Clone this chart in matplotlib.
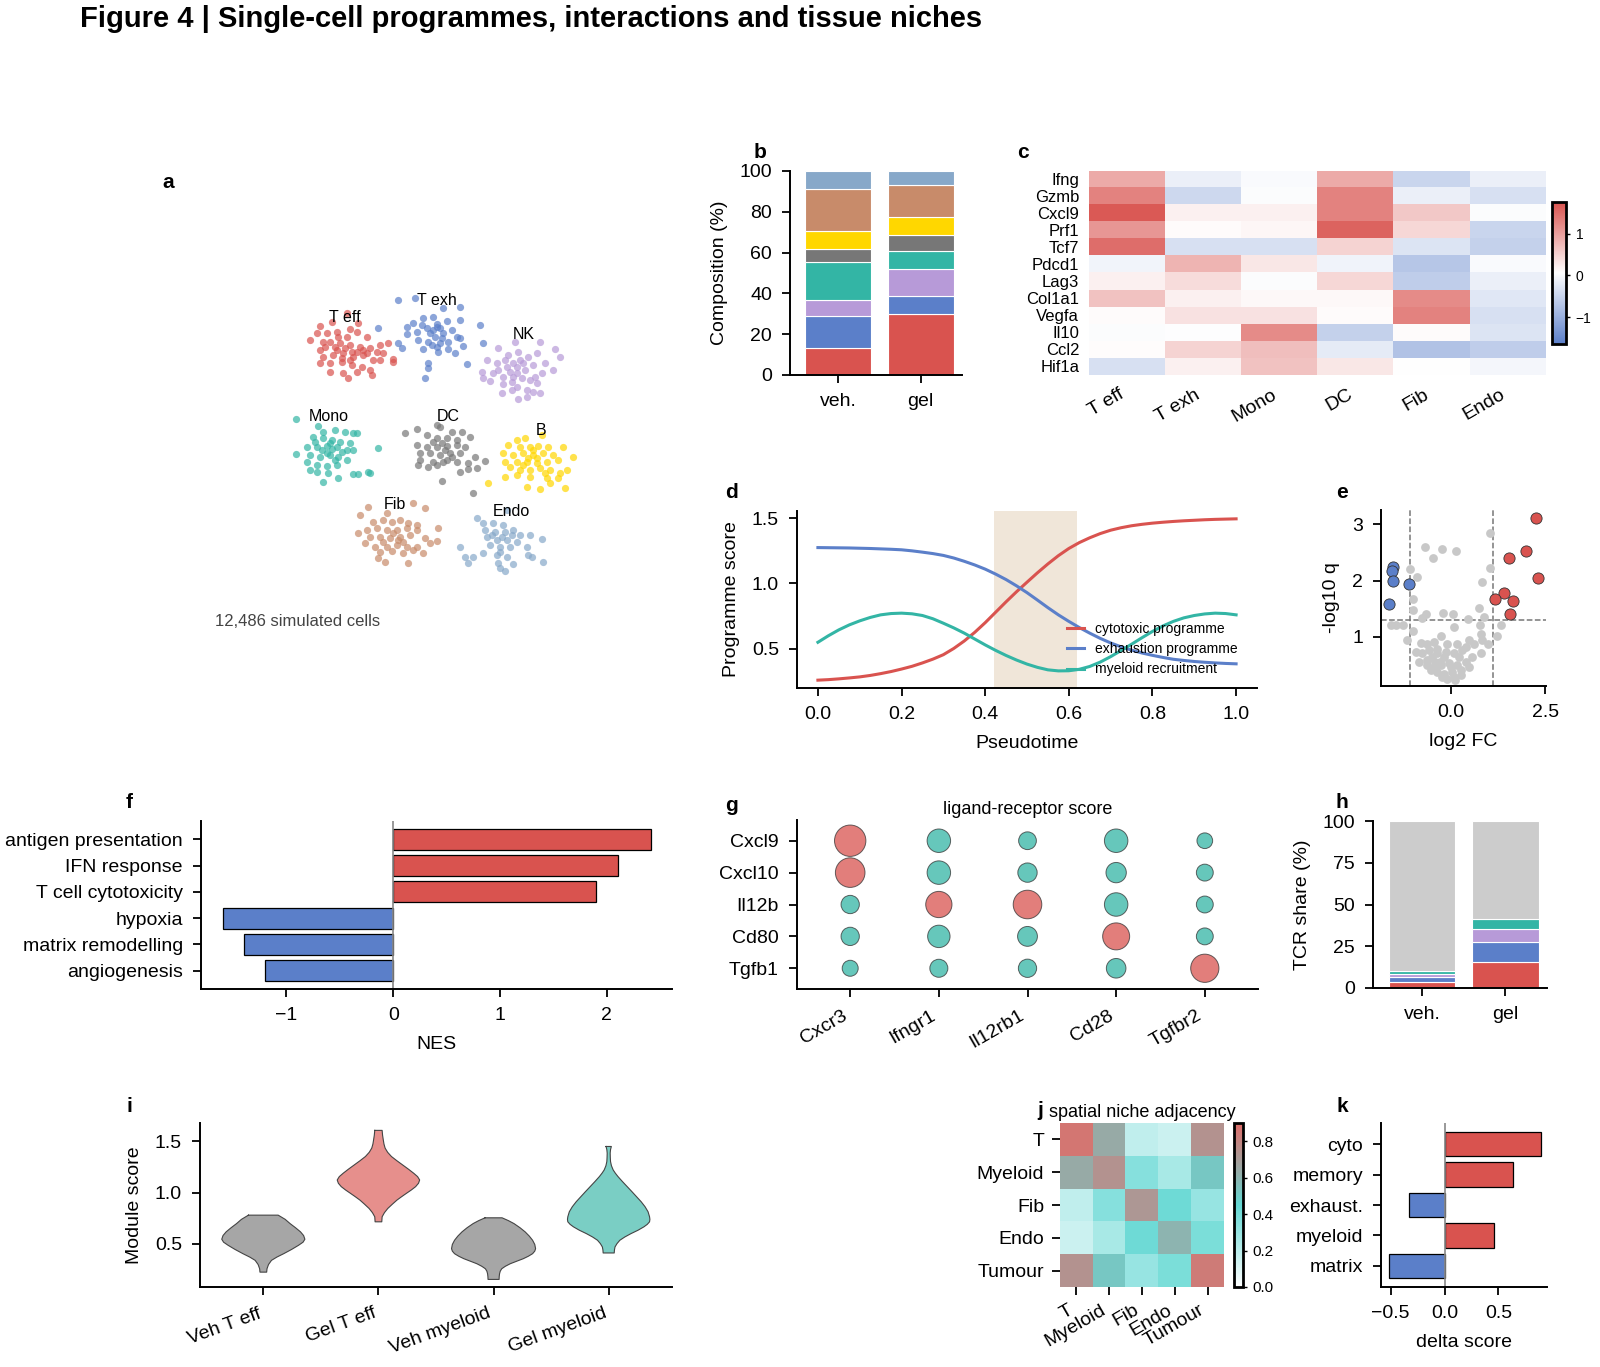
import numpy as np
import matplotlib
matplotlib.use("Agg")
import matplotlib.pyplot as plt
from matplotlib.colors import LinearSegmentedColormap

plt.rcParams.update({
    "font.family": ["Liberation Sans", "DejaVu Sans"],
    "font.size": 14,
    "axes.linewidth": 1.4,
    "xtick.major.size": 5.5, "ytick.major.size": 5.5,
    "xtick.major.width": 1.3, "ytick.major.width": 1.3,
    "xtick.major.pad": 7.5, "ytick.major.pad": 7.5,
    "xtick.labelsize": 14, "ytick.labelsize": 14,
    "axes.labelsize": 14, "axes.labelpad": 8.5,
    "axes.spines.top": False, "axes.spines.right": False,
})

RED = "#d9534f"; BLUE = "#5b7fc9"; PURPLE = "#b79ad8"; TEAL = "#33b5a5"
GREY = "#777777"; YELLOW = "#ffd700"; BROWN = "#c88b6a"; LBLUE = "#87a8c9"

# ---------------- data ----------------
title = "Figure 4 | Single-cell programmes, interactions and tissue niches"

# a: embedding (UMAP units)
cluster_names = ["T eff", "T exh", "NK", "Mono", "DC", "B", "Fib", "Endo"]
cluster_colors = [RED, BLUE, PURPLE, TEAL, GREY, YELLOW, BROWN, LBLUE]
teff_pts = [(510,497),(545,485),(592,460),(600,508),(625,490),(500,520),(530,520),(560,515),(590,530),(620,515),(650,530),(690,555),(715,550),(680,575),(700,580),(730,598),(730,605),(510,570),(540,545),(570,550),(600,555),(630,560),(660,565),(520,590),(550,585),(580,580),(610,590),(640,585),(670,600),(510,610),(540,610),(575,605),(605,615),(635,620),(660,630),(665,645),(540,635),(580,640),(595,655),(620,635),(480,540),(520,545),(560,570),(620,575),(650,580),(690,600),(555,560),(585,565),(605,575),(575,595),(600,600),(640,570),(525,560),(565,530)]
texh_pts = [(745,420),(795,415),(880,445),(930,440),(685,505),(770,500),(790,488),(820,475),(850,470),(890,482),(930,480),(990,495),(770,522),(800,515),(830,505),(860,500),(880,520),(920,530),(805,540),(835,545),(855,530),(870,550),(895,545),(930,535),(745,550),(755,565),(820,568),(865,575),(895,568),(915,578),(940,558),(998,550),(835,610),(835,625),(950,612),(825,655),(860,492),(840,520),(850,510),(870,505),(815,495),(875,535),(845,555),(905,510),(860,560)]
nk_pts = [(1095,545),(1170,545),(1215,568),(1230,592),(1045,565),(1075,585),(1105,575),(1135,590),(1160,580),(1010,600),(1040,610),(1070,620),(1100,620),(1125,630),(1150,615),(1185,610),(1210,630),(995,635),(1030,640),(1060,650),(1090,650),(1115,655),(1140,660),(1175,640),(1000,655),(1020,662),(1060,672),(1100,680),(1130,690),(1160,670),(1085,690),(1105,718),(1130,712),(1055,698),(1150,695),(1170,698),(1080,635),(1110,600),(1090,610),(1065,600),(1120,610),(1100,640),(1045,630),(1155,650),(1085,665)]
mono_pts = [(438,778),(505,797),(520,815),(555,810),(585,815),(610,818),(620,818),(490,830),(520,835),(545,840),(570,845),(600,850),(470,860),(500,860),(530,858),(560,862),(590,870),(610,870),(685,865),(480,885),(510,890),(540,885),(565,890),(590,900),(437,883),(470,905),(500,915),(530,918),(560,915),(480,930),(500,935),(535,940),(565,955),(520,965),(610,942),(625,942),(655,935),(660,938),(545,868),(515,870),(540,850),(530,880),(555,900),(575,875),(495,845)]
dc_pts = [(765,820),(800,808),(860,795),(870,800),(905,815),(935,815),(960,830),(830,825),(860,835),(890,835),(920,840),(800,855),(830,860),(860,860),(890,858),(920,855),(945,862),(810,880),(840,880),(870,885),(900,878),(930,880),(975,890),(1005,902),(810,900),(850,905),(880,905),(920,905),(955,910),(805,915),(835,920),(860,915),(930,935),(955,928),(980,925),(875,963),(968,998),(890,900),(875,850),(885,870),(850,845),(905,890)]
b_pts = [(1100,840),(1125,835),(1175,825),(1075,855),(1110,860),(1140,860),(1165,858),(1195,860),(1240,862),(1060,880),(1090,885),(1120,880),(1150,885),(1180,878),(1210,885),(1270,890),(1065,905),(1100,905),(1130,905),(1160,910),(1190,905),(1225,900),(1250,930),(1080,920),(1110,930),(1140,930),(1170,925),(1200,930),(1230,940),(1100,945),(1140,950),(1190,955),(1225,955),(1015,968),(1065,950),(1130,980),(1170,988),(1200,970),(1245,985),(1150,870),(1135,895),(1160,895),(1120,915),(1185,940)]
fib_pts = [(655,1040),(790,1030),(825,1045),(710,1060),(630,1065),(670,1085),(700,1080),(725,1085),(750,1080),(775,1090),(800,1095),(650,1110),(680,1105),(710,1110),(740,1110),(770,1105),(800,1110),(865,1103),(625,1118),(660,1130),(690,1130),(720,1135),(750,1130),(780,1125),(825,1135),(645,1150),(675,1160),(710,1160),(740,1155),(770,1160),(800,1160),(840,1150),(860,1143),(690,1175),(725,1172),(760,1180),(790,1170),(820,1180),(685,1195),(705,1205),(775,1210),(745,1140),(730,1120),(760,1145),(700,1145)]
endo_pts = [(1070,1050),(980,1075),(1000,1088),(1030,1090),(1060,1095),(1090,1110),(1110,1125),(1005,1110),(1035,1115),(1065,1115),(1010,1130),(1040,1140),(1070,1140),(1100,1145),(1140,1125),(1175,1138),(930,1160),(1020,1155),(1050,1160),(1080,1160),(1130,1160),(1000,1180),(970,1190),(945,1192),(1040,1185),(1070,1190),(1135,1185),(1145,1190),(955,1208),(1045,1210),(1090,1212),(1180,1205),(1065,1232),(1050,1225),(1050,1175),(1055,1130),(1085,1125),(1025,1125)]
cluster_label_pos = [(585,473),(860,420),(1120,522),(535,768),(895,768),(1172,810),(735,1033),(1085,1055)]
n_cells_text = "12,486 simulated cells"

# b: composition
comp_groups = ["veh.", "gel"]
comp_veh = [13.4, 15.5, 7.9, 18.6, 6.2, 9.2, 20.5, 8.7]
comp_gel = [30.1, 8.6, 13.1, 8.8, 7.9, 9.1, 15.4, 7.0]

# c: marker heatmap
hm_genes = ["Ifng","Gzmb","Cxcl9","Prf1","Tcf7","Pdcd1","Lag3","Col1a1","Vegfa","Il10","Ccl2","Hif1a"]
hm_cells = ["T eff","T exh","Mono","DC","Fib","Endo"]
hm_vals = [
    [0.90, -0.15, 0.00, 0.90, -0.50, -0.15],
    [1.30, -0.45, 0.02, 1.30, -0.15, -0.35],
    [1.70, 0.20, 0.20, 1.30, 0.60, 0.02],
    [1.10, 0.10, 0.15, 1.60, 0.45, -0.50],
    [1.50, -0.35, -0.35, 0.50, -0.30, -0.55],
    [-0.08, 0.80, 0.30, -0.10, -0.70, 0.00],
    [0.20, 0.40, 0.03, 0.45, -0.60, -0.15],
    [0.65, 0.20, 0.12, 0.12, 1.20, -0.25],
    [0.10, 0.35, 0.35, 0.10, 1.30, -0.35],
    [0.02, 0.04, 1.20, -0.55, 0.10, -0.30],
    [0.08, 0.50, 0.70, -0.20, -0.75, -0.60],
    [-0.35, 0.20, 0.65, 0.30, 0.06, -0.05],
]

# d: pseudotime programmes (read every 0.025)
pseudotime = [0.0,0.025,0.05,0.075,0.1,0.125,0.15,0.175,0.2,0.225,0.25,0.275,0.3,0.325,0.35,0.375,0.4,0.425,0.45,0.475,
              0.5,0.525,0.55,0.575,0.6,0.625,0.65,0.675,0.7,0.725,0.75,0.775,0.8,0.825,0.85,0.875,0.9,0.925,0.95,0.975,1.0]
cytotoxic = [0.260,0.264,0.270,0.277,0.285,0.296,0.310,0.326,0.345,0.366,0.392,0.421,0.455,0.503,0.560,0.626,0.700,0.780,0.860,0.937,
             1.010,1.082,1.150,1.213,1.268,1.313,1.350,1.382,1.408,1.427,1.442,1.453,1.462,1.469,1.475,1.480,1.484,1.488,1.491,1.493,1.495]
exhaustion = [1.275,1.274,1.273,1.272,1.270,1.268,1.265,1.262,1.258,1.250,1.240,1.229,1.215,1.195,1.170,1.142,1.110,1.072,1.030,0.982,
              0.930,0.873,0.815,0.760,0.710,0.663,0.620,0.580,0.545,0.515,0.490,0.468,0.450,0.434,0.420,0.411,0.403,0.397,0.392,0.388,0.385]
myeloid = [0.550,0.600,0.645,0.683,0.714,0.740,0.760,0.770,0.773,0.768,0.755,0.730,0.696,0.660,0.620,0.575,0.530,0.488,0.449,0.414,
           0.383,0.358,0.339,0.331,0.332,0.343,0.365,0.398,0.440,0.487,0.535,0.585,0.633,0.675,0.710,0.737,0.755,0.767,0.773,0.770,0.760]
transition_window = (0.42, 0.62)

# e: volcano
up_lfc = [2.26, 1.99, 1.54, 2.32, 1.39, 1.15, 1.63, 1.57]
up_q = [3.11, 2.53, 2.40, 2.05, 1.77, 1.68, 1.64, 1.41]
down_lfc = [-1.54, -1.59, -1.54, -1.12, -1.67]
down_q = [2.24, 2.17, 1.99, 1.93, 1.59]
ns_lfc = [1.04,-0.70,-0.24,0.13,-0.48,1.02,-1.10,-0.90,0.82,-1.03,-1.02,-0.68,-0.21,0.04,0.75,-1.61,-1.48,-1.28,-0.79,0.45,0.87,1.31,0.76,-1.18,-1.03,-0.28,0.07,0.47,1.22,0.80,0.82,0.97,-0.81,-0.64,-0.46,-0.95,-0.77,-0.59,-0.37,-0.11,0.16,0.38,0.60,-0.86,-0.64,-0.42,-0.19,0.07,0.29,0.56,0.78,-0.64,-0.46,-0.28,-0.06,0.16,0.38,-0.55,-0.37,-0.19,0.03,0.25,0.47,-0.24,-0.11,0.07,0.25,-0.37,-0.02,0.11,-0.30,-0.50,-0.15,0.20]
ns_q = [2.84,2.59,2.55,2.53,2.40,2.23,2.21,2.07,1.97,1.68,1.47,1.41,1.43,1.40,1.52,1.22,1.22,1.22,1.34,1.31,1.35,1.22,1.21,0.95,1.11,1.01,1.18,0.95,1.02,1.06,0.94,0.88,0.89,0.88,0.91,0.73,0.71,0.76,0.79,0.88,0.88,0.82,0.87,0.56,0.59,0.56,0.65,0.71,0.76,0.65,0.71,0.50,0.47,0.50,0.53,0.50,0.56,0.41,0.38,0.35,0.38,0.41,0.47,0.29,0.25,0.29,0.32,0.71,0.47,0.23,0.56,0.65,0.73,0.65]
lfc_cut = 1.1
q_cut = 1.301

# f: GSEA
pathways = ["antigen presentation","IFN response","T cell cytotoxicity","hypoxia","matrix remodelling","angiogenesis"]
nes = [2.41, 2.10, 1.90, -1.59, -1.40, -1.20]

# g: ligand-receptor
ligands = ["Cxcl9","Cxcl10","Il12b","Cd80","Tgfb1"]
receptors = ["Cxcr3","Ifngr1","Il12rb1","Cd28","Tgfbr2"]
lr_score = [
    [1.00, 0.56, 0.32, 0.56, 0.25],
    [0.89, 0.56, 0.38, 0.42, 0.29],
    [0.34, 0.70, 0.83, 0.56, 0.29],
    [0.34, 0.51, 0.40, 0.74, 0.29],
    [0.26, 0.33, 0.34, 0.39, 0.81],
]

# h: TCR clonotype share
tcr_groups = ["veh.", "gel"]
tcr_series = ["clone 1","clone 2","clone 3","clone 4","other"]
tcr_veh = [3.6, 3.0, 2.0, 1.5, 89.9]
tcr_gel = [15.6, 11.9, 8.0, 6.0, 58.5]

# i: module score violins (density outline)
vio_groups = ["Veh T eff","Gel T eff","Veh myeloid","Gel myeloid"]
vio1_y = [0.781,0.740,0.699,0.658,0.618,0.582,0.546,0.517,0.487,0.446,0.405,0.372,0.340,0.299,0.258,0.225]
vio1_w = [0.129,0.190,0.232,0.280,0.323,0.350,0.361,0.345,0.306,0.245,0.177,0.118,0.071,0.045,0.032,0.029]
vio2_y = [1.608,1.560,1.516,1.475,1.435,1.394,1.353,1.312,1.271,1.230,1.190,1.157,1.124,1.092,1.059,1.026,0.993,0.960,0.928,0.887,0.846,0.805,0.765,0.716]
vio2_w = [0.032,0.036,0.042,0.048,0.058,0.080,0.113,0.160,0.210,0.260,0.306,0.340,0.358,0.348,0.323,0.285,0.242,0.200,0.161,0.120,0.081,0.052,0.032,0.029]
vio3_y = [0.755,0.727,0.699,0.658,0.618,0.577,0.536,0.495,0.454,0.430,0.405,0.380,0.356,0.331,0.307,0.282,0.258,0.234,0.209,0.180,0.154]
vio3_w = [0.074,0.130,0.177,0.230,0.274,0.310,0.339,0.358,0.365,0.358,0.339,0.302,0.258,0.200,0.145,0.102,0.071,0.058,0.052,0.049,0.048]
vio4_y = [1.451,1.420,1.386,1.345,1.304,1.263,1.222,1.190,1.157,1.108,1.059,1.010,0.961,0.912,0.863,0.814,0.765,0.740,0.716,0.691,0.667,0.634,0.601,0.568,0.536,0.503,0.471,0.441,0.412]
vio4_w = [0.023,0.016,0.013,0.014,0.016,0.024,0.039,0.058,0.081,0.120,0.161,0.202,0.242,0.282,0.316,0.342,0.355,0.358,0.355,0.335,0.306,0.255,0.194,0.140,0.097,0.072,0.055,0.050,0.048]

# j: spatial adjacency
niches = ["T","Myeloid","Fib","Endo","Tumour"]
adjacency = [
    [0.86, 0.64, 0.18, 0.15, 0.74],
    [0.64, 0.74, 0.35, 0.25, 0.52],
    [0.18, 0.35, 0.72, 0.42, 0.30],
    [0.15, 0.25, 0.42, 0.60, 0.38],
    [0.74, 0.52, 0.30, 0.38, 0.84],
]

# k: delta scores
modules = ["cyto","memory","exhaust.","myeloid","matrix"]
delta = [0.89, 0.63, -0.33, 0.46, -0.52]

# ---------------- figure ----------------
W, H = 1600, 1367
fig = plt.figure(figsize=(W / 100, H / 100), dpi=100)

def box(l, t, r, b):
    return fig.add_axes([l / W, 1 - b / H, (r - l) / W, (b - t) / H])

def letter(x, y, s):
    fig.text(x / W, 1 - y / H, s, fontsize=15, fontweight="bold", ha="center", va="center")

fig.text(80 / W, 1 - 19 / H, title, fontsize=21, fontweight="bold", ha="left", va="center")

# a
ax = box(150, 160, 600, 640)
for pts, col in zip([teff_pts, texh_pts, nk_pts, mono_pts, dc_pts, b_pts, fib_pts, endo_pts], cluster_colors):
    p = np.array(pts)
    ax.scatter(p[:, 0], p[:, 1], s=27, color=col, alpha=0.7, lw=0)
for name, (x, y) in zip(cluster_names, cluster_label_pos):
    ax.text(x, y, name, fontsize=11.5, ha="center", va="center")
ax.text(195, 1385, n_cells_text, fontsize=12, color="#444444", ha="left", va="center")
ax.set_xlim(0, 1350); ax.set_ylim(1440, 0)
ax.axis("off")
letter(168, 182, "a")

# b
ax = box(790, 171, 962, 375)
bottoms = np.zeros(2)
for i, col in enumerate(cluster_colors):
    vals = np.array([comp_veh[i], comp_gel[i]])
    ax.bar([0, 1], vals, 0.8, bottom=bottoms, color=col, edgecolor="white", lw=0.8, label=cluster_names[i])
    bottoms += vals
ax.set_xticks([0, 1]); ax.set_xticklabels(comp_groups)
ax.set_xlim(-0.58, 1.5); ax.set_ylim(0, 100)
ax.set_yticks([0, 20, 40, 60, 80, 100])
ax.set_ylabel("Composition (%)")
letter(760, 152, "b")

# c
ax = box(1089, 171, 1546, 375)
cmap_c = LinearSegmentedColormap.from_list("bwr_c", [BLUE, "white", RED])
im = ax.imshow(np.array(hm_vals), cmap=cmap_c, vmin=-1.65, vmax=1.77, aspect="auto")
ax.set_yticks(range(len(hm_genes))); ax.set_yticklabels(hm_genes, fontsize=12)
ax.set_xticks(range(len(hm_cells))); ax.set_xticklabels(hm_cells, rotation=30, ha="right", fontsize=14)
ax.tick_params(length=0)
ax.tick_params(axis="y", pad=7)
ax.tick_params(axis="x", pad=8)
for s in ax.spines.values():
    s.set_visible(False)
cax = box(1552, 202, 1566, 344)
cb = fig.colorbar(im, cax=cax, ticks=[-1, 0, 1])
cb.outline.set_linewidth(2)
cb.ax.tick_params(labelsize=10, length=3, width=1, pad=4)
letter(1023, 152, "c")

# d
ax = box(797, 511, 1257, 688)
ax.axvspan(*transition_window, color="#d2b48c", alpha=0.33, lw=0, zorder=0)
ax.plot(pseudotime, cytotoxic, color=RED, lw=2.2, label="cytotoxic programme")
ax.plot(pseudotime, exhaustion, color=BLUE, lw=2.2, label="exhaustion programme")
ax.plot(pseudotime, myeloid, color=TEAL, lw=2.2, label="myeloid recruitment")
ax.set_xlim(-0.05, 1.05); ax.set_ylim(0.2, 1.555)
ax.set_xticks([0, 0.2, 0.4, 0.6, 0.8, 1.0]); ax.set_yticks([0.5, 1.0, 1.5])
ax.set_xlabel("Pseudotime"); ax.set_ylabel("Programme score")
ax.legend(loc="lower right", frameon=False, fontsize=10, handlelength=1.2,
          handletextpad=0.8, labelspacing=0.45, bbox_to_anchor=(0.985, -0.005))
letter(731, 493, "d")

# e
ax = box(1381, 510, 1546, 686)
ax.scatter(ns_lfc, ns_q, s=40, color="#c8c8c8", lw=0, zorder=2)
ax.scatter(up_lfc, up_q, s=65, color=RED, edgecolor="#333333", lw=0.6, zorder=3)
ax.scatter(down_lfc, down_q, s=65, color=BLUE, edgecolor="#333333", lw=0.6, zorder=3)
for v in (-lfc_cut, lfc_cut):
    ax.axvline(v, color="#777777", lw=1.1, ls="--", zorder=1)
ax.axhline(q_cut, color="#777777", lw=1.1, ls="--", zorder=1)
ax.set_xlim(-1.87, 2.52); ax.set_ylim(0.13, 3.25)
ax.set_xticks([0.0, 2.5]); ax.set_yticks([1, 2, 3])
ax.set_xlabel("log2 FC"); ax.set_ylabel("-log10 q")
letter(1342, 493, "e")

# f
ax = box(201, 821, 672, 989)
ypos = np.arange(len(pathways))
ax.barh(ypos, nes, 0.8, color=[RED if v > 0 else BLUE for v in nes], edgecolor="black", lw=0.9)
ax.axvline(0, color="#888888", lw=1.2)
ax.set_yticks(ypos); ax.set_yticklabels(pathways)
ax.set_ylim(5.69, -0.69); ax.set_xlim(-1.80, 2.61)
ax.set_xticks([-1, 0, 1, 2])
ax.set_xlabel("NES")
letter(129, 803, "f")

# g
ax = box(797, 820, 1258, 989)
sc = np.array(lr_score)
gx, gy = np.meshgrid(np.arange(len(receptors)), np.arange(len(ligands)))
cols = np.where(sc.ravel() > 0.6, RED, TEAL)
ax.scatter(gx.ravel(), gy.ravel(), s=sc.ravel() * 510, c=list(cols), alpha=0.75,
           edgecolors="#333333", linewidths=0.7, zorder=3)
ax.set_xticks(range(len(receptors))); ax.set_xticklabels(receptors, rotation=30, ha="right")
ax.set_yticks(range(len(ligands))); ax.set_yticklabels(ligands)
ax.set_xlim(-0.6, 4.6); ax.set_ylim(4.65, -0.65)
ax.set_title("ligand-receptor score", fontsize=13, pad=4)
letter(731, 805, "g")

# h
ax = box(1373, 821, 1547, 988)
bottoms = np.zeros(2)
for i, col in enumerate([RED, BLUE, PURPLE, TEAL, "#cccccc"]):
    vals = np.array([tcr_veh[i], tcr_gel[i]])
    ax.bar([0, 1], vals, 0.8, bottom=bottoms, color=col, edgecolor="white", lw=0.8, label=tcr_series[i])
    bottoms += vals
ax.set_xticks([0, 1]); ax.set_xticklabels(tcr_groups)
ax.set_xlim(-0.59, 1.5); ax.set_ylim(0, 100)
ax.set_yticks([0, 25, 50, 75, 100])
ax.set_ylabel("TCR share (%)")
letter(1342, 802, "h")

# i
ax = box(200, 1123, 672, 1287)
vio_cols = [GREY, RED, GREY, TEAL]
for pos, (yy, ww, col) in enumerate(zip([vio1_y, vio2_y, vio3_y, vio4_y],
                                         [vio1_w, vio2_w, vio3_w, vio4_w], vio_cols)):
    yy = np.array(yy); ww = np.array(ww)
    ax.fill_betweenx(yy, pos - ww, pos + ww, facecolor=col, alpha=0.65, edgecolor="none")
    outline_x = np.concatenate([pos - ww, (pos + ww)[::-1], [pos - ww[0]]])
    outline_y = np.concatenate([yy, yy[::-1], [yy[0]]])
    ax.plot(outline_x, outline_y, color="#444444", lw=0.8)
ax.set_xticks(range(4)); ax.set_xticklabels(vio_groups, rotation=20, ha="right")
ax.set_xlim(-0.55, 3.55); ax.set_ylim(0.08, 1.68)
ax.set_yticks([0.5, 1.0, 1.5])
ax.set_ylabel("Module score")
letter(129, 1106, "i")

# j
ax = box(1060, 1123, 1224, 1287)
cmap_j = LinearSegmentedColormap.from_list("tr", ["#ffffff", "#48d1cc", RED])
imj = ax.imshow(np.array(adjacency), cmap=cmap_j, vmin=0, vmax=0.9, aspect="auto", alpha=0.85)
ax.set_xticks(range(5)); ax.set_xticklabels(niches, rotation=30, ha="right")
ax.set_yticks(range(5)); ax.set_yticklabels(niches)
ax.tick_params(axis="x", pad=5)
ax.tick_params(axis="y", pad=6)
for s in ax.spines.values():
    s.set_visible(False)
ax.set_title("spatial niche adjacency", fontsize=13, pad=4)
caxj = box(1234, 1123, 1243, 1287)
cbj = fig.colorbar(imj, cax=caxj, ticks=[0, 0.2, 0.4, 0.6, 0.8])
cbj.outline.set_linewidth(2)
cbj.ax.tick_params(labelsize=11, length=3, width=1, pad=4)
letter(1040, 1110, "j")

# k
ax = box(1381, 1123, 1547, 1287)
kpos = np.arange(len(modules))
ax.barh(kpos, delta, 0.8, color=[RED if v > 0 else BLUE for v in delta], edgecolor="black", lw=0.9)
ax.axvline(0, color="#888888", lw=1.2)
ax.set_yticks(kpos); ax.set_yticklabels(modules)
ax.set_ylim(4.69, -0.69); ax.set_xlim(-0.59, 0.95)
ax.set_xticks([-0.5, 0.0, 0.5])
ax.set_xlabel("delta score")
letter(1342, 1107, "k")

fig.savefig("out.png", dpi=100)
